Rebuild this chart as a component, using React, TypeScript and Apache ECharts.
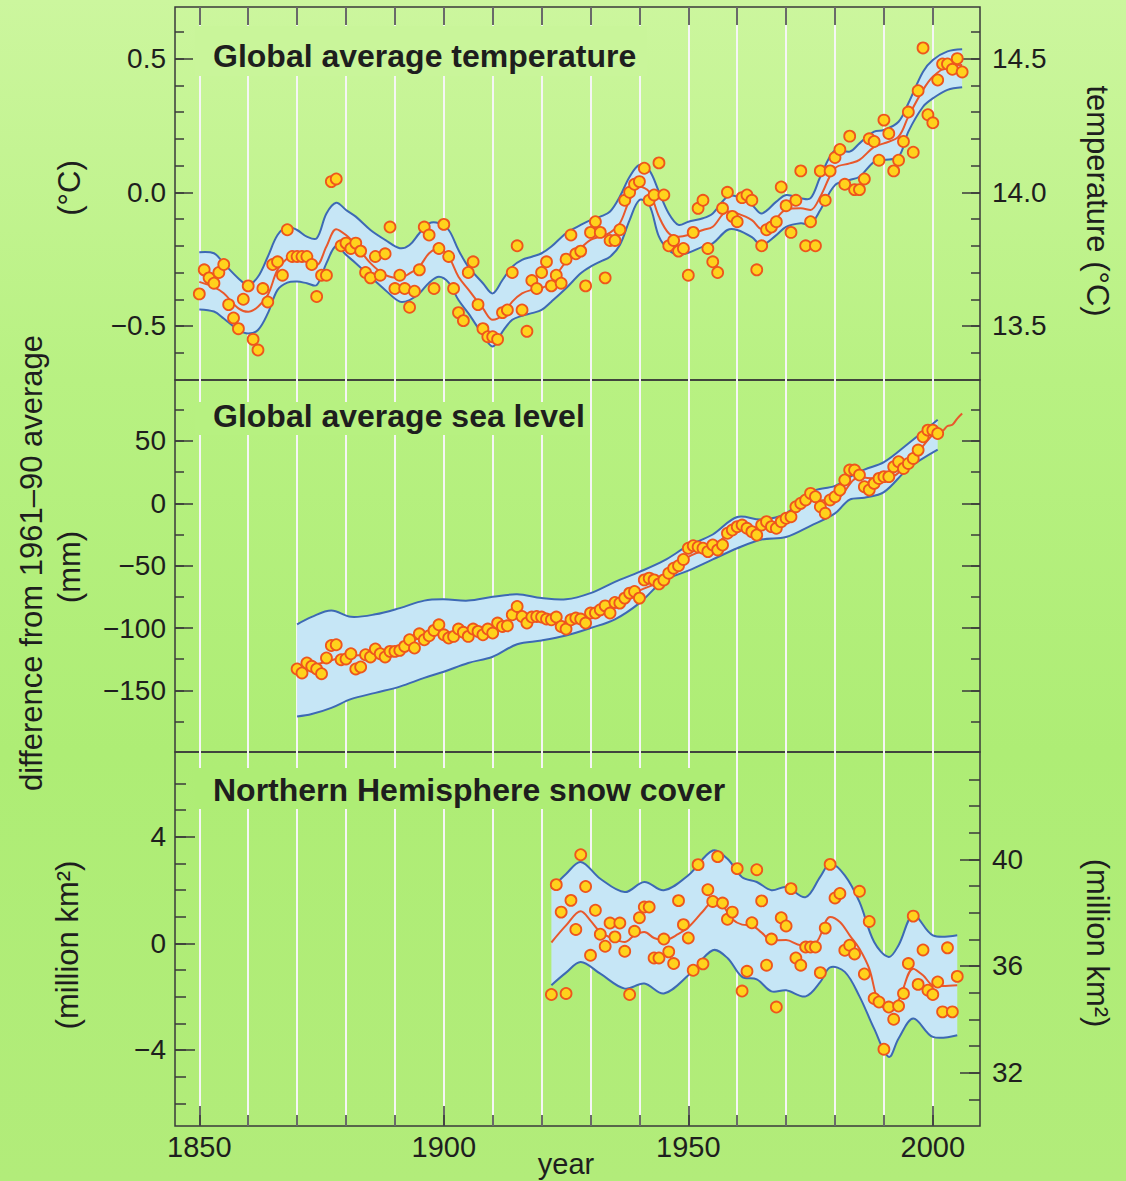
import React, { useEffect, useRef } from 'react';
import * as echarts from 'echarts';

// ---------------- data ----------------
// Global average temperature, difference from 1961-90 (°C), annual values 1850-2006
const TEMP_START = 1850;
const tempAnnual = [
  -0.38, -0.29, -0.32, -0.34, -0.30, -0.27, -0.42, -0.47, -0.51, -0.40,
  -0.35, -0.55, -0.59, -0.36, -0.41, -0.27, -0.26, -0.31, -0.14, -0.24,
  -0.24, -0.24, -0.24, -0.27, -0.39, -0.31, -0.31, 0.04, 0.05, -0.20,
  -0.19, -0.21, -0.19, -0.22, -0.30, -0.32, -0.24, -0.31, -0.23, -0.13,
  -0.36, -0.31, -0.36, -0.43, -0.37, -0.29, -0.13, -0.16, -0.36, -0.21,
  -0.12, -0.24, -0.36, -0.45, -0.48, -0.30, -0.26, -0.42, -0.51, -0.54,
  -0.54, -0.55, -0.45, -0.44, -0.30, -0.20, -0.44, -0.52, -0.33, -0.36,
  -0.30, -0.26, -0.35, -0.31, -0.34, -0.25, -0.16, -0.23, -0.22, -0.35,
  -0.15, -0.11, -0.15, -0.32, -0.18, -0.18, -0.14, -0.03, 0.00, 0.03,
  0.04, 0.09, -0.03, -0.01, 0.11, -0.01, -0.20, -0.18, -0.22, -0.21,
  -0.31, -0.15, -0.06, -0.03, -0.21, -0.26, -0.30, -0.06, 0.00, -0.09,
  -0.11, -0.02, -0.01, -0.03, -0.29, -0.20, -0.14, -0.13, -0.11, 0.02,
  -0.05, -0.15, -0.03, 0.08, -0.20, -0.11, -0.20, 0.08, -0.03, 0.08,
  0.13, 0.16, 0.03, 0.21, 0.01, 0.01, 0.05, 0.20, 0.19, 0.12,
  0.27, 0.22, 0.08, 0.12, 0.19, 0.30, 0.15, 0.38, 0.54, 0.29,
  0.26, 0.42, 0.48, 0.48, 0.46, 0.50, 0.45,
];
const tempBandYears = [
  1850, 1853, 1855, 1858, 1860, 1862, 1864, 1866, 1868, 1870, 1872, 1874, 1876, 1878, 1880,
  1882, 1885, 1888, 1891, 1893, 1895, 1897, 1899, 1901, 1903, 1905, 1908, 1910, 1912, 1914,
  1916, 1918, 1920, 1922, 1925, 1928, 1930, 1932, 1934, 1936, 1938, 1940, 1942, 1944, 1946,
  1948, 1950, 1953, 1955, 1958, 1960, 1963, 1965, 1968, 1970, 1973, 1975, 1977, 1980, 1983,
  1985, 1988, 1990, 1993, 1995, 1998, 2000, 2003, 2006,
];
const tempSmooth = [
  -0.335, -0.355, -0.378, -0.434, -0.447, -0.428, -0.384, -0.29, -0.247, -0.228, -0.234, -0.272, -0.203, -0.138, -0.16,
  -0.197, -0.265, -0.309, -0.321, -0.303, -0.278, -0.228, -0.209, -0.241, -0.316, -0.363, -0.434, -0.477, -0.459, -0.409,
  -0.378, -0.365, -0.359, -0.334, -0.259, -0.209, -0.178, -0.166, -0.151, -0.116, -0.029, 0.021, 0.002, -0.091, -0.153,
  -0.166, -0.16, -0.141, -0.129, -0.072, -0.079, -0.104, -0.138, -0.097, -0.064, -0.06, -0.066, -0.016, 0.09, 0.108,
  0.121, 0.17, 0.183, 0.208, 0.283, 0.383, 0.432, 0.47, 0.476,
];
const tempUpper = [
  -0.224, -0.228, -0.266, -0.322, -0.347, -0.316, -0.241, -0.16, -0.129, -0.141, -0.166, -0.172, -0.079, -0.039, -0.066,
  -0.091, -0.141, -0.178, -0.209, -0.197, -0.153, -0.116, -0.116, -0.141, -0.216, -0.278, -0.34, -0.378, -0.328, -0.278,
  -0.253, -0.241, -0.228, -0.203, -0.153, -0.122, -0.104, -0.091, -0.072, -0.016, 0.058, 0.102, 0.083, 0.002, -0.079,
  -0.122, -0.11, -0.097, -0.079, -0.016, -0.016, -0.047, -0.079, -0.035, -0.01, -0.022, -0.022, 0.058, 0.158, 0.152,
  0.183, 0.227, 0.233, 0.264, 0.333, 0.451, 0.495, 0.527, 0.535,
];
const tempLower = [
  -0.438, -0.446, -0.472, -0.515, -0.528, -0.515, -0.453, -0.365, -0.338, -0.334, -0.34, -0.347, -0.265, -0.2, -0.234,
  -0.265, -0.316, -0.365, -0.409, -0.403, -0.378, -0.338, -0.316, -0.338, -0.403, -0.452, -0.533, -0.577, -0.521, -0.477,
  -0.462, -0.452, -0.44, -0.409, -0.359, -0.303, -0.278, -0.259, -0.241, -0.197, -0.104, -0.029, -0.047, -0.166, -0.216,
  -0.234, -0.226, -0.203, -0.191, -0.141, -0.141, -0.168, -0.197, -0.16, -0.129, -0.116, -0.119, -0.066, 0.027, 0.046,
  0.058, 0.114, 0.121, 0.133, 0.227, 0.32, 0.351, 0.383, 0.393,
];

// Global average sea level, difference from 1961-90 (mm), annual values 1870-2001
const SEA_START = 1870;
const seaAnnual = [
  -132.8, -136, -128, -130.7, -132.8, -136.6, -124, -114, -113.4, -125.4,
  -124.8, -120.6, -132.8, -131.2, -121.4, -123.2, -116.8, -120.6, -123.2, -118.7,
  -118.7, -117.9, -114.7, -109.4, -116, -104.6, -109.4, -106.2, -101.9, -97.4,
  -105.4, -108, -106.7, -100.8, -103.4, -106.7, -100.8, -102.7, -105.4, -100.8,
  -104, -96, -98.7, -98.2, -89.4, -82.7, -90.7, -96, -91.2, -90.7,
  -91.2, -92.8, -93.4, -91.2, -98.7, -100.8, -93.4, -92, -92.8, -96,
  -88, -88, -85.4, -82.2, -88, -79.5, -80, -76, -72, -70.7,
  -76, -61.4, -60, -61.4, -64.6, -61.4, -56, -52, -50, -45,
  -36, -34, -35, -36, -38.7, -33.4, -37.4, -33.4, -24, -21.4,
  -18.7, -17.4, -20, -22.7, -25.4, -17.4, -14.7, -18.7, -20, -14.7,
  -12, -10.7, -2.7, 0, 2.7, 8, 5.3, -2.7, -8, 2.7,
  5.3, 10.7, 18.7, 26.7, 26.7, 22.7, 13.3, 10.7, 16, 20,
  21.4, 21.4, 29.4, 33.4, 28, 32, 36, 42.7, 53.4, 58.7,
  58.7, 56,
];
const seaBandYears = [
  1870, 1873, 1877, 1881, 1886, 1891, 1896, 1900, 1905, 1910, 1915, 1920, 1925, 1930, 1935,
  1940, 1945, 1950, 1955, 1960, 1965, 1970, 1975, 1980, 1983, 1986, 1990, 1995, 2001,
];
const seaUpper = [
  -97, -91, -86, -91, -89, -84, -78, -77, -78, -75, -73, -76, -77, -72, -63,
  -55, -46, -34, -25, -11, -13, -8, 9, 14, 21, 27, 33, 48, 67,
];
const seaLower = [
  -171, -169, -164, -157, -152, -147, -140, -135, -128, -123, -113, -110, -106, -100, -93,
  -80, -62, -54, -45, -36, -29, -27, -18, -8, 3, 4.5, 9, 28, 43,
];
const seaSmoothYears = [
  1870, 1875, 1880, 1885, 1890, 1895, 1900, 1905, 1910, 1915, 1920, 1925, 1930, 1935, 1940, 1945,
  1950, 1955, 1960, 1965, 1970, 1975, 1980, 1985, 1990, 1995, 2000, 2002, 2003, 2004, 2005, 2006,
];
const seaSmooth = [
  -133, -128, -123, -121, -117, -108, -104, -103, -101, -92, -92, -95, -88, -80, -70, -61,
  -43, -35, -20, -19, -12, 2, 3, 21, 19, 32, 55, 58, 62, 63, 68, 72,
];

// Northern Hemisphere snow cover, difference from 1961-90 (million km²), annual 1922-2005
const SNOW_START = 1922;
const snowAnnual = [
  -1.92, 2.20, 1.17, -1.88, 1.61, 0.52, 3.32, 2.13, -0.45,
  1.24, 0.34, -0.11, 0.76, 0.24, 0.76, -0.30, -1.92, 0.45, 0.96,
  1.36, 1.36, -0.55, -0.55, 0.16, -0.32, -0.76, 1.60, 0.70, 0.20,
  -1.01, 2.95, -0.77, 2.01, 1.57, 3.25, 1.51, 0.90, 1.17, 2.80,
  -1.79, -1.05, 0.77, 2.76, 1.59, -0.82, 0.16, -2.39, 0.96, 0.65,
  2.05, -0.55, -0.82, -0.14, -0.14, -0.14, -1.10, 0.57, 2.96, 1.70,
  1.87, -0.26, -0.07, -0.40, 1.95, -1.15, 0.82, -2.07, -2.20, -3.97,
  -2.39, -2.85, -2.35, -1.88, -0.76, 1.02, -1.54, -0.25, -1.76, -1.92,
  -1.45, -2.57, -0.17, -2.57, -1.24,
];
const snowBandYears = [
  1922, 1925, 1928, 1932, 1937, 1941, 1945, 1950, 1955, 1958, 1961, 1964, 1967,
  1970, 1974, 1977, 1979, 1982, 1985, 1988, 1991, 1993, 1996, 2000, 2005,
];
const snowUpper = [
  2.05, 2.6, 3.05, 2.42, 1.92, 2.30, 1.99, 2.55, 3.48, 3.17, 2.48, 2.3, 1.99,
  2.11, 1.73, 2.5, 2.98, 2.55, 1.55, 0.05, -0.51, -0.07, 1.05, 0.30, 0.30,
];
const snowLower = [
  -1.57, -1.1, -0.70, -1.14, -1.70, -1.51, -1.88, -1.20, -0.26, -0.55, -1.26, -1.35, -1.8,
  -1.76, -1.99, -1.45, -0.9, -1.07, -1.99, -3.2, -4.26, -3.57, -2.82, -3.51, -3.45,
];
const snowSmoothYears = [
  1922, 1925, 1928, 1930, 1932, 1935, 1937, 1939, 1941, 1943, 1945, 1948, 1950, 1953, 1955, 1957, 1959,
  1961, 1963, 1965, 1967, 1970, 1973, 1976, 1979, 1981, 1983, 1985, 1987, 1989, 1991, 1993, 1996, 1998,
  2000, 2002, 2005,
];
const snowSmooth = [
  0.03, 0.67, 1.2, 0.85, 0.42, 0.15, 0.05, 0.3, 0.42, 0.2, 0.11, 0.35, 0.6, 1.2, 1.55, 1.42, 0.9,
  0.7, 0.67, 0.4, 0.11, 0.12, -0.07, 0.01, 0.99, 0.8, 0.3, -0.2, -0.95, -2.26, -2.45, -2.13, -0.95, -1.2,
  -1.57, -1.6, -1.57,
];

// tick positions
const decadeTicks = [1850, 1860, 1870, 1880, 1890, 1900, 1910, 1920, 1930, 1940, 1950, 1960, 1970, 1980, 1990, 2000];
const yearLabels = [1850, 1900, 1950, 2000];
const tempMinor = [-0.6, -0.5, -0.4, -0.3, -0.2, -0.1, 0, 0.1, 0.2, 0.3, 0.4, 0.5, 0.6];
const tempMajor = [-0.5, 0, 0.5];
const tempRMinor = [13.4, 13.5, 13.6, 13.7, 13.8, 13.9, 14.0, 14.1, 14.2, 14.3, 14.4, 14.5, 14.6];
const tempRMajor = [13.5, 14.0, 14.5];
const seaMinor = [-175, -150, -125, -100, -75, -50, -25, 0, 25, 50, 75];
const seaMajor = [-150, -100, -50, 0, 50];
const snowMinor = [-6, -5, -4, -3, -2, -1, 0, 1, 2, 3, 4, 5, 6];
const snowMajor = [-4, 0, 4];
const snowRMinor = [31, 32, 33, 34, 35, 36, 37, 38, 39, 40, 41, 42, 43];
const snowRMajor = [32, 36, 40];

// ---------------- styles / layout ----------------
const FONT = '"Liberation Sans", Arial, Helvetica, sans-serif';
const INK = '#1e1e1e';
const FRAME = '#3a3a3a';
const BAND_FILL = '#c6e6f6';
const BAND_LINE = '#3d69b4';
const RED = '#e8582c';
const DOT_FILL = '#ffd21c';
const DOT_EDGE = '#ee561c';
const GRIDLINE = '#f5f5f5';
const SMOOTH = 0.35;

const BG_STOPS: [number, number[]][] = [
  [0, [204, 246, 158]],
  [380, [184, 241, 130]],
  [750, [174, 237, 117]],
  [1181, [178, 236, 122]],
];
function bgAt(y: number) {
  for (let i = 0; i < BG_STOPS.length - 1; i++) {
    const [y0, c0] = BG_STOPS[i];
    const [y1, c1] = BG_STOPS[i + 1];
    if (y >= y0 && y <= y1) {
      const t = (y - y0) / (y1 - y0);
      const c = c0.map((v, k) => Math.round(v + (c1[k] - v) * t));
      return `rgb(${c[0]},${c[1]},${c[2]})`;
    }
  }
  const c = BG_STOPS[BG_STOPS.length - 1][1];
  return `rgb(${c[0]},${c[1]},${c[2]})`;
}
const BG_CSS = `linear-gradient(to bottom, ${BG_STOPS.map(([y, c]) => `rgb(${c[0]},${c[1]},${c[2]}) ${y}px`).join(', ')})`;

const X_MIN = 1845.03;
const X_MAX = 2009.65;
const PANELS = [
  { top: 7, height: 373 },
  { top: 380, height: 372 },
  { top: 752, height: 374 },
];
const TEMP_RANGE = [-0.702, 0.693];
const TEMP_OFFSET = 14.0;
const SEA_RANGE = [-199.4, 98.9];
const SNOW_RANGE = [-6.85, 7.173];
const SNOW_OFFSET = 36.85;

function signed(v: number, d: number) {
  const s = Math.abs(v).toFixed(d);
  return v < -1e-9 ? '\u2212' + s : s;
}

function yAxis(grid: number, position: string, min: number, max: number, ticks: number[], len: number,
  labels?: number[], fmt?: (v: number) => string) {
  return {
    type: 'value', gridIndex: grid, position, min, max, z: 1,
    axisLine: { show: false, onZero: false },
    axisTick: { show: true, inside: true, length: len, customValues: ticks, lineStyle: { color: FRAME, width: 1.5 } },
    axisLabel: labels
      ? { show: true, customValues: labels, formatter: fmt, color: INK, fontSize: 28, fontFamily: FONT, margin: position === 'left' ? 9 : 12 }
      : { show: false },
    splitLine: { show: false },
  };
}

// axis that only carries the white vertical decade lines (also the data axis of its panel)
function xGridAxis(grid: number) {
  return {
    type: 'value', gridIndex: grid, position: 'bottom', min: X_MIN, max: X_MAX, z: 0,
    axisLine: { show: false, onZero: false },
    axisTick: { show: false, customValues: decadeTicks },
    axisLabel: { show: false },
    splitLine: { show: true, lineStyle: { color: GRIDLINE, width: 2 } },
  };
}

// axis that only carries tick marks (and optionally labels)
function xTickAxis(grid: number, position: string, ticks: number[], len: number, labels?: number[]) {
  return {
    type: 'value', gridIndex: grid, position, min: X_MIN, max: X_MAX, z: 1,
    axisLine: { show: false, onZero: false },
    axisTick: { show: true, inside: true, length: len, customValues: ticks, lineStyle: { color: FRAME, width: 1.5 } },
    axisLabel: labels
      ? { show: true, customValues: labels, formatter: (v: number) => String(Math.round(v)), color: INK, fontSize: 29, fontFamily: FONT, margin: 6 }
      : { show: false },
    splitLine: { show: false },
  };
}

// uncertainty band: filled area between upper and lower curves, with both edges outlined
function bandSeries(key: string, xi: number, yi: number, years: number[], upper: number[], lower: number[]) {
  return {
    name: key + '-band', type: 'custom', xAxisIndex: xi, yAxisIndex: yi, silent: true, z: 2, clip: false,
    data: [[years[0], lower[0]]],
    renderItem: (_params: any, api: any) => {
      const up = years.map((y, i) => api.coord([y, upper[i]]));
      const lo = years.map((y, i) => api.coord([y, lower[i]]));
      const n = years.length;
      const loRev = lo.slice().reverse();
      const ring = [up[0], ...up, up[n - 1], lo[n - 1], ...loRev, lo[0]];
      return {
        type: 'group',
        children: [
          { type: 'polygon', shape: { points: ring, smooth: SMOOTH }, style: { fill: BAND_FILL, stroke: 'none' } },
          { type: 'polyline', shape: { points: up, smooth: SMOOTH }, style: { fill: 'none', stroke: BAND_LINE, lineWidth: 2 } },
          { type: 'polyline', shape: { points: lo, smooth: SMOOTH }, style: { fill: 'none', stroke: BAND_LINE, lineWidth: 2 } },
        ],
      };
    },
  };
}

function panelSeries(key: string, xi: number, yi: number, bandYears: number[], upper: number[], lower: number[],
  smoothYears: number[], smooth: number[], start: number, dots: number[]) {
  return [
    bandSeries(key, xi, yi, bandYears, upper, lower),
    {
      name: key + '-smooth', type: 'line', xAxisIndex: xi, yAxisIndex: yi, silent: true,
      data: smoothYears.map((y, i) => [y, smooth[i]]), smooth: SMOOTH, symbol: 'none',
      lineStyle: { color: RED, width: 2 }, z: 3,
    },
    {
      name: key + '-obs', type: 'scatter', xAxisIndex: xi, yAxisIndex: yi, silent: true,
      data: dots.map((v, i) => [start + i, v]), symbolSize: 11,
      itemStyle: { color: DOT_FILL, borderColor: DOT_EDGE, borderWidth: 1.8, opacity: 1 }, z: 4,
    },
  ];
}

function titleBlock(text: string, box: number[], cy: number) {
  return [
    { type: 'rect', silent: true, z: 50, shape: { x: box[0], y: box[1], width: box[2] - box[0], height: box[3] - box[1] }, style: { fill: bgAt((box[1] + box[3]) / 2) } },
    { type: 'text', silent: true, z: 51, x: 213, y: cy, style: { text, font: `bold 32px ${FONT}`, fill: INK, textAlign: 'left', textVerticalAlign: 'middle', align: 'left', verticalAlign: 'middle' } },
  ];
}

function vText(text: string, x: number, y: number, up: boolean, size = 31) {
  return {
    type: 'text', silent: true, z: 51, x, y, rotation: up ? Math.PI / 2 : -Math.PI / 2,
    style: { text, font: `${size}px ${FONT}`, fill: INK, textAlign: 'center', textVerticalAlign: 'middle', align: 'center', verticalAlign: 'middle' },
  };
}

function buildOption() {
  const grids = PANELS.map((p) => ({
    left: 175, top: p.top, width: 805, height: p.height, show: true,
    borderColor: FRAME, borderWidth: 1.5, backgroundColor: 'transparent', containLabel: false,
  }));
  const xAxes = [
    xGridAxis(0),
    xGridAxis(1),
    xGridAxis(2),
    xTickAxis(0, 'top', decadeTicks, 18),
    xTickAxis(2, 'bottom', decadeTicks, 11, yearLabels),
    xTickAxis(2, 'bottom', yearLabels, 20),
  ];
  const yAxes = [
    yAxis(0, 'left', TEMP_RANGE[0], TEMP_RANGE[1], tempMinor, 9, tempMajor, (v) => signed(v, 1)),
    yAxis(0, 'left', TEMP_RANGE[0], TEMP_RANGE[1], tempMajor, 18),
    yAxis(0, 'right', TEMP_RANGE[0] + TEMP_OFFSET, TEMP_RANGE[1] + TEMP_OFFSET, tempRMinor, 9, tempRMajor, (v) => v.toFixed(1)),
    yAxis(0, 'right', TEMP_RANGE[0] + TEMP_OFFSET, TEMP_RANGE[1] + TEMP_OFFSET, tempRMajor, 18),
    yAxis(1, 'left', SEA_RANGE[0], SEA_RANGE[1], seaMinor, 9, seaMajor, (v) => signed(v, 0)),
    yAxis(1, 'left', SEA_RANGE[0], SEA_RANGE[1], seaMajor, 18),
    yAxis(1, 'right', SEA_RANGE[0], SEA_RANGE[1], seaMinor, 9),
    yAxis(1, 'right', SEA_RANGE[0], SEA_RANGE[1], seaMajor, 18),
    yAxis(2, 'left', SNOW_RANGE[0], SNOW_RANGE[1], snowMinor, 11, snowMajor, (v) => signed(v, 0)),
    yAxis(2, 'left', SNOW_RANGE[0], SNOW_RANGE[1], snowMajor, 20),
    yAxis(2, 'right', SNOW_RANGE[0] + SNOW_OFFSET, SNOW_RANGE[1] + SNOW_OFFSET, snowRMinor, 11, snowRMajor, (v) => String(Math.round(v))),
    yAxis(2, 'right', SNOW_RANGE[0] + SNOW_OFFSET, SNOW_RANGE[1] + SNOW_OFFSET, snowRMajor, 20),
  ];
  const series = [
    ...panelSeries('temp', 0, 0, tempBandYears, tempUpper, tempLower, tempBandYears, tempSmooth, TEMP_START, tempAnnual),
    ...panelSeries('sea', 1, 4, seaBandYears, seaUpper, seaLower, seaSmoothYears, seaSmooth, SEA_START, seaAnnual),
    ...panelSeries('snow', 2, 8, snowBandYears, snowUpper, snowLower, snowSmoothYears, snowSmooth, SNOW_START, snowAnnual),
  ];
  const graphic = [
    ...titleBlock('Global average temperature', [195, 26, 647, 76], 56),
    ...titleBlock('Global average sea level', [195, 402, 590, 435], 416),
    ...titleBlock('Northern Hemisphere snow cover', [195, 768, 735, 809], 790),
    vText('difference from 1961\u201390 average', 31, 563, true),
    vText('(\u00b0C)', 69, 188, true),
    vText('(mm)', 69, 567, true),
    vText('(million km\u00b2)', 67, 945, true),
    vText('temperature (\u00b0C)', 1097, 201, false),
    vText('(million km\u00b2)', 1097, 943, false),
    { type: 'text', silent: true, z: 51, x: 566, y: 1164, style: { text: 'year', font: `29px ${FONT}`, fill: INK, textAlign: 'center', textVerticalAlign: 'middle', align: 'center', verticalAlign: 'middle' } },
  ];
  return {
    animation: false,
    backgroundColor: 'transparent',
    grid: grids,
    xAxis: xAxes,
    yAxis: yAxes,
    series,
    graphic,
  };
}

export default function App() {
  const ref = useRef<HTMLDivElement>(null);
  useEffect(() => {
    if (!ref.current) return;
    const chart = echarts.init(ref.current, undefined, { renderer: 'svg' });
    chart.setOption(buildOption() as any);
    return () => chart.dispose();
  }, []);
  return (
    <div
      ref={ref}
      style={{ position: 'absolute', left: 0, top: 0, width: 1126, height: 1181, background: BG_CSS }}
    />
  );
}
